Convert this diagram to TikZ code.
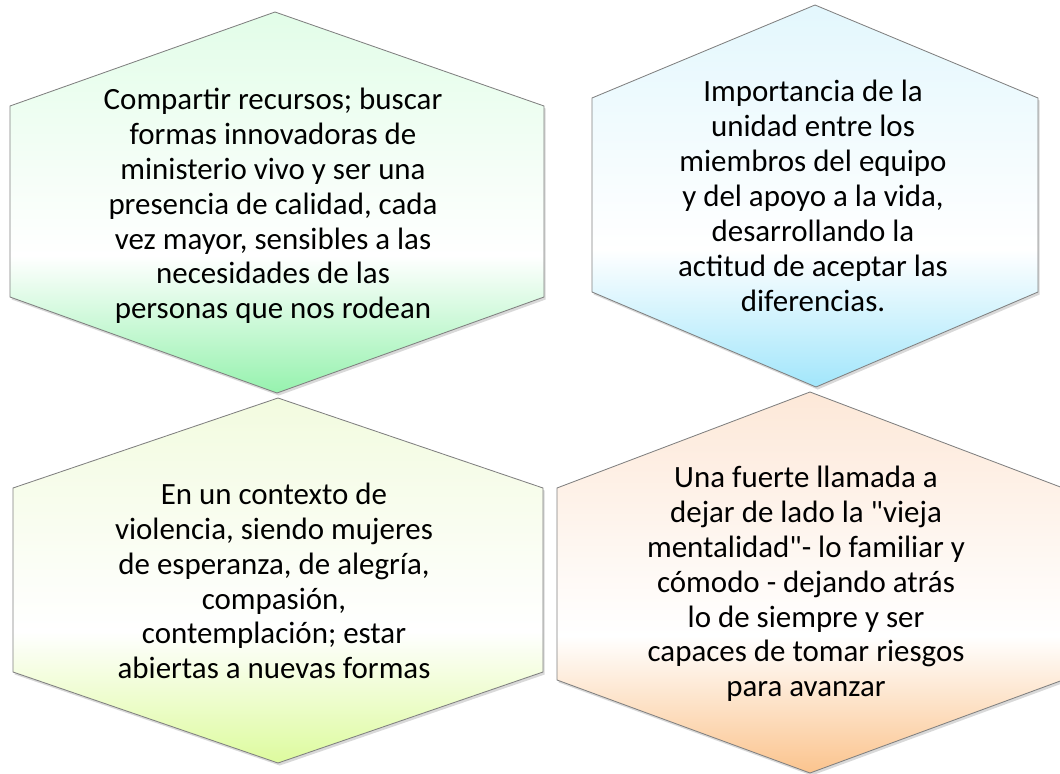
\documentclass[tikz,border=0pt]{standalone}
\usepackage{fontspec}
\setmainfont{Carlito}[Ligatures=TeXOff]
\usetikzlibrary{shadows}

\definecolor{tlTop}{HTML}{E2FDE8}
\definecolor{tlBot}{HTML}{96F2AE}
\definecolor{trTop}{HTML}{E3F7FD}
\definecolor{trBot}{HTML}{A2E6FB}
\definecolor{blTop}{HTML}{F2FBDF}
\definecolor{blBot}{HTML}{DDFB9E}
\definecolor{brTop}{HTML}{FDE8D8}
\definecolor{brBot}{HTML}{FBC48E}

% pale top, white low in the middle, strong at the tip
\newcommand\hexshading[1]{%
  \pgfdeclareverticalshading{hex#1}{100bp}{color(0bp)=(#1Bot); color(25bp)=(#1Bot);
    color(43bp)=(white); color(75bp)=(#1Top); color(100bp)=(#1Top)}}
\hexshading{tl}
\hexshading{tr}
\hexshading{bl}
\hexshading{br}

\begin{document}
\begin{tikzpicture}
[   x=0.025cm, y=-0.025cm,
    hexa/.style={draw=black!50, line width=0.6pt,
        drop shadow={opacity=0.3, shadow xshift=1.2pt, shadow yshift=-1.8pt},
        shading=hex#1},
    txt/.style={align=center, font=\fontsize{22}{24.8}\selectfont, text=black},
]
\useasboundingbox (0,0) rectangle (1060,774);

%%%%%%%%%%%%%%%%%%%% TOP LEFT %%%%%%%%%%%%%%%%%%%%%%%%%%%%%%%%%%%
    \draw[hexa=tl] (275,12) -- (544,106) -- (544,297) -- (277,393) -- (10,297) -- (10,106) -- cycle;
    \node[txt] (recursos) at (273,206) {Compartir recursos; buscar\\formas innovadoras de\\ministerio vivo y ser una\\presencia de calidad, cada\\vez mayor, sensibles a las\\necesidades de las\\personas que nos rodean};

%%%%%%%%%%%%%%%%%%%% TOP RIGHT %%%%%%%%%%%%%%%%%%%%%%%%%%%%%%%%%%%
    \draw[hexa=tr] (815,5) -- (1038,98) -- (1038,292) -- (816,387) -- (592,292) -- (592,98) -- cycle;
    \node[txt] (unidad) at (813,196) {Importancia de la\\unidad entre los\\miembros del equipo\\y del apoyo a la vida,\\desarrollando la\\actitud de aceptar las\\diferencias.};

%%%%%%%%%%%%%%%%%%%% BOTTOM LEFT %%%%%%%%%%%%%%%%%%%%%%%%%%%%%%%%%%%
    \draw[hexa=bl] (278,398) -- (543,488) -- (543,672) -- (278,763) -- (13,672) -- (13,488) -- cycle;
    \node[txt] (violencia) at (274,581) {En un contexto de\\violencia, siendo mujeres\\de esperanza, de alegría,\\compasión,\\contemplación; estar\\abiertas a nuevas formas};

%%%%%%%%%%%%%%%%%%%% BOTTOM RIGHT %%%%%%%%%%%%%%%%%%%%%%%%%%%%%%%%%%%
    \draw[hexa=br] (810,392) -- (1063,488) -- (1063,680) -- (810,773) -- (557,680) -- (557,488) -- cycle;
    \node[txt] (llamada) at (806,584) {Una fuerte llamada a\\dejar de lado la "vieja\\mentalidad"- lo familiar y\\cómodo - dejando atrás\\lo de siempre y ser\\capaces de tomar riesgos\\para avanzar};

\end{tikzpicture}
\end{document}
